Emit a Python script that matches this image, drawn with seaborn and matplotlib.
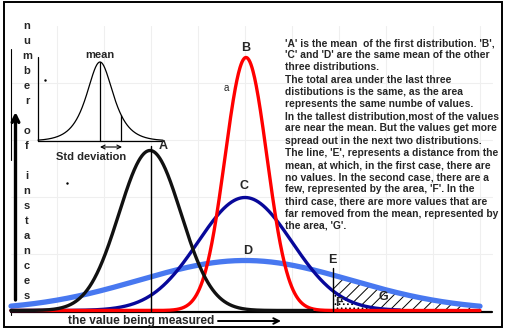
import numpy as np
import pandas as pd
import matplotlib
matplotlib.use("Agg")
import matplotlib.pyplot as plt
import seaborn as sns

sns.set_style("white")
plt.rcParams["font.family"] = ["Liberation Sans", "DejaVu Sans"]
plt.rcParams["hatch.linewidth"] = 0.7

# Four distributions: label, mean, standard deviation, peak count, colour, width
curve_labels = ["A", "B", "C", "D"]
curve_means = [150, 246, 245, 245]
curve_sds = [31, 21, 47, 106]
curve_peaks = [160, 253, 113, 50]
curve_colors = ["#111111", "#ff0000", "#08089a", "#4878f0"]
curve_widths = [2.4, 2.4, 2.4, 3.8]
curve_xmax = [312, 480, 400, 480]

# Inset sketch: centre, spread, height and the one-std marker
inset_center = 100
inset_scale = 11.9
inset_height = 79
inset_std_x = 121

# Distance cut-off 'E' and the end of the shaded tail
cutoff_x = 333
tail_end = 480
f_end = 372

text_lines = [
    "'A' is the mean  of the first distribution. 'B',",
    "'C' and 'D' are the same mean of the other",
    "three distributions.",
    "The total area under the last three",
    "distibutions is the same, as the area",
    "represents the same numbe of values.",
    "In the tallest distribution,most of the values",
    "are near the mean. But the values get more",
    "spread out in the next two distributions.",
    "The line, 'E', represents a distance from the",
    "mean, at which, in the first case, there are",
    "no values. In the second case, there are a",
    "few, represented by the area, 'F'. In the",
    "third case, there are more values that are",
    "far removed from the mean, represented by",
    "the area, 'G'.",
]
y_axis_word = "number of instances"
x_axis_word = "the value being measured"

BASE = 310.5


def bell(x, m, s, h):
    return BASE - h * np.exp(-((x - m) ** 2) / (2 * s ** 2))


def reset(ax):
    ax.set_xlim(0, 506)
    ax.set_ylim(332, 0)
    ax.axis("off")


fig = plt.figure(figsize=(5.06, 3.32), dpi=100)
ax = fig.add_axes([0, 0, 1, 1])
reset(ax)

# faint background grid
for gx in np.arange(57, 492, 47):
    ax.plot([gx, gx], [26, 310], color="#efefef", lw=0.8, zorder=0)
for gy in [83, 140, 197, 254]:
    ax.plot([11, 492], [gy, gy], color="#efefef", lw=0.8, zorder=0)

# outer frame
ax.add_patch(plt.Rectangle((4, 2), 498, 325, fill=False, ec="black", lw=1.4, zorder=1))

# horizontal axis
ax.plot([11, 492], [311.5, 311.5], color="black", lw=1.6, zorder=2)
ax.plot([11, 11], [309, 315], color="black", lw=0.8, zorder=2)

# curves, widest first
for i in [3, 2, 1, 0]:
    xs = np.linspace(11, curve_xmax[i], 900)
    ys = bell(xs, curve_means[i], curve_sds[i], curve_peaks[i])
    df = pd.DataFrame({"x": xs, "y": ys})
    sns.lineplot(data=df, x="x", y="y", color=curve_colors[i], lw=curve_widths[i],
                 sort=False, ax=ax, zorder=3 + (3 - i))
reset(ax)

# tail areas beyond the cut-off
xt = np.linspace(cutoff_x, tail_end, 400)
yc = bell(xt, curve_means[2], curve_sds[2], curve_peaks[2])
yd = bell(xt, curve_means[3], curve_sds[3], curve_peaks[3])
ax.fill_between(xt, yd, yc, facecolor="none", edgecolor="black", hatch="///",
                lw=0, zorder=2)
xf = np.linspace(cutoff_x, f_end, 200)
ycf = bell(xf, curve_means[2], curve_sds[2], curve_peaks[2])
ax.fill_between(xf, ycf, BASE, facecolor="none", edgecolor="black", hatch="....",
                lw=0, zorder=2)

# mean line of A and cut-off line E
ax.plot([151, 151], [146, 311], color="black", lw=1.0, zorder=8)
ax.plot([cutoff_x, cutoff_x], [268, 311], color="black", lw=1.0, zorder=8)

# letter labels
lab_kw = dict(fontsize=9, fontweight="bold", ha="center", va="center", zorder=10)
ax.text(163, 146, "A", **lab_kw)
ax.text(246, 48, "B", **lab_kw)
ax.text(244, 186, "C", **lab_kw)
ax.text(248, 251, "D", **lab_kw)
ax.text(332, 260, "E", **lab_kw)
ax.text(339, 303, "F", **lab_kw)
ax.text(383, 297, "G", **lab_kw)
ax.text(226, 88, "a", fontsize=7, ha="center", va="center")
ax.plot([45, 67], [80, 183], ls="none", marker="s", ms=0.7, color="black")

# inset sketch of a single distribution
ax.plot([38, 38], [57, 141], color="black", lw=0.9)
ax.plot([38, 163], [141, 141], color="black", lw=0.9)
xi = np.linspace(38, 163, 400)
yi = 141 - inset_height / np.cosh((xi - inset_center) / inset_scale)
sns.lineplot(x=xi, y=yi, color="black", lw=0.9, sort=False, ax=ax)
reset(ax)
ax.plot([inset_center, inset_center], [62, 141], color="black", lw=0.9)
ys_std = 141 - inset_height / np.cosh((inset_std_x - inset_center) / inset_scale)
ax.plot([inset_std_x, inset_std_x], [ys_std, 141], color="black", lw=0.9)
ax.annotate("", xy=(100, 147), xytext=(122, 147),
            arrowprops=dict(arrowstyle="<->", lw=0.8, color="black",
                            shrinkA=0, shrinkB=0, mutation_scale=7))
ax.text(100, 55, "mean", fontsize=8, fontweight="bold", ha="center", va="center")
ax.text(91, 157, "Std deviation", fontsize=8, fontweight="bold", ha="center", va="center")

# vertical axis arrow and stacked title
ax.plot([11, 11], [49, 160], color="black", lw=0.8)
ax.annotate("", xy=(15.5, 112), xytext=(15.5, 300),
            arrowprops=dict(arrowstyle="->", lw=2.4, color="black",
                            shrinkA=0, shrinkB=0, mutation_scale=12))
for k, ch in enumerate(y_axis_word):
    if ch != " ":
        ax.text(27, 26 + 15 * k, ch, fontsize=8, fontweight="bold",
                ha="center", va="center")

# horizontal axis title with arrow
ax.text(141, 321, x_axis_word, fontsize=8.6, fontweight="bold", ha="center", va="center")
ax.annotate("", xy=(281, 321), xytext=(218, 321),
            arrowprops=dict(arrowstyle="->", lw=1.4, color="black",
                            shrinkA=0, shrinkB=0, mutation_scale=10))

# explanatory paragraph
for k, line in enumerate(text_lines):
    ax.text(285, 43 + 12.2 * k, line, fontsize=7.4, fontweight="bold",
            ha="left", va="center")

fig.savefig("out.png", dpi=100)
